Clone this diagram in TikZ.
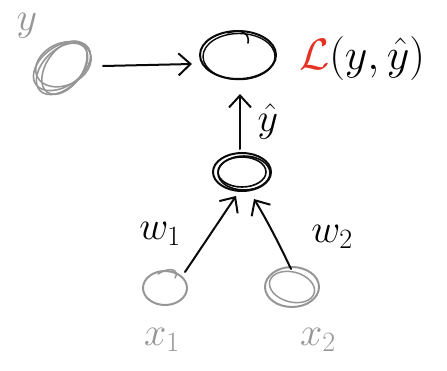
\documentclass[tikz,border=0pt]{standalone}
\usepackage{fix-cm}
\usepackage{amsmath}
\usetikzlibrary{arrows.meta}
\definecolor{pen}{RGB}{10,10,10}
\definecolor{pencil}{RGB}{150,150,150}
\definecolor{redpen}{RGB}{230,50,35}
\begin{document}
\begin{tikzpicture}[x=1pt,y=-1pt,
  ink/.style={draw=pen,line width=2pt,line cap=round},
  greyink/.style={draw=pencil,line width=2pt,line cap=round},
  conn/.style={ink,-{Straight Barb[length=12pt,width=22pt,line width=2pt]}},
  lbl/.style={inner sep=0pt,font=\fontsize{40}{46}\selectfont}]
\useasboundingbox (0,0) rectangle (447,370);
% y target (grey scribble)
\coordinate (yc) at (62,66);
\foreach \a/\rx/\ry/\dx/\dy in {35/32/20/0/0, 45/31/19/-2/2, 25/29/21/2/-1, 55/30/18/0/3}
  \draw[greyink,line width=1.6pt,rotate around={\a:(yc)}] (yc) ++(\dx,\dy) ellipse[x radius=\rx, y radius=\ry];
\node[lbl,text=pencil] (ylab) at (27,26) {$y$};
% loss node
\coordinate (lc) at (238,55);
\draw[ink] (lc) ellipse[x radius=38, y radius=24];
\draw[ink,line width=1.4pt] (lc) ++(1,1.5) ellipse[x radius=36, y radius=23];
\draw[ink,line width=1.6pt] (228,33) .. controls (242,28) and (250,34) .. (248,43);
\node[lbl,font=\fontsize{44}{50}\selectfont] (loss) at (362,58) {$\textcolor{redpen}{\mathcal{L}}(y,\hat{y})$};
% hidden node
\coordinate (hc) at (242,172);
\draw[ink] (hc) ellipse[x radius=29, y radius=19];
\draw[ink,line width=1.6pt] (hc) ellipse[x radius=24, y radius=15];
\draw[ink,line width=1.6pt] (hc) ++(2,1) ellipse[x radius=26, y radius=17];
\coordinate (hin1) at (236,196);
\coordinate (hin2) at (254,199);
\coordinate (hout) at (240,149);
\coordinate (lin) at (240,94);
% inputs
\coordinate (x1c) at (165,288);
\draw[greyink] (x1c) ellipse[x radius=22, y radius=17];
\draw[greyink,line width=1.5pt] (158,274) .. controls (170,266) and (180,270) .. (175,278);
\coordinate (x2c) at (292,287);
\draw[greyink] (x2c) ellipse[x radius=27, y radius=20];
\draw[greyink,line width=1.5pt,rotate around={-15:(x2c)}] (x2c) ellipse[x radius=23, y radius=15];
\coordinate (x1o) at (185,272);
\coordinate (x2o) at (291,269);
% connectors
\coordinate (ya) at (103,66);
\coordinate (la) at (192,64);
\draw[conn] (ya) -- (la);
\draw[conn] (hout) -- (lin);
\draw[conn] (x1o) -- (hin1);
\draw[conn] (x2o) .. controls (275,235) and (262,212) .. (hin2);
% labels
\node[lbl] (yhat) at (268,121) {$\hat{y}$};
\node[lbl] (w1) at (160,234) {$w_1$};
\node[lbl] (w2) at (332,237) {$w_2$};
\node[lbl,text=pencil] (x1) at (162,340) {$x_1$};
\node[lbl,text=pencil] (x2) at (318,340) {$x_2$};
\end{tikzpicture}
\end{document}
